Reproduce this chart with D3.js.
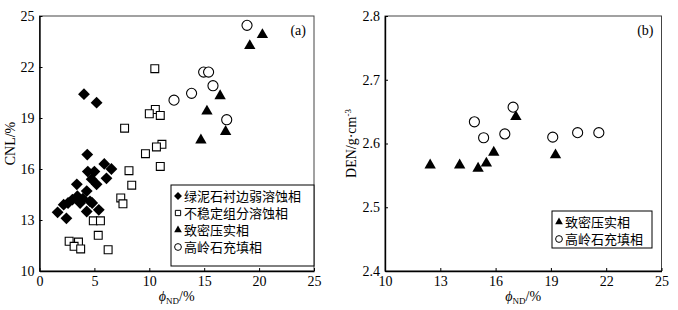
<!DOCTYPE html>
<html>
<head>
<meta charset="utf-8">
<script src="https://cdn.jsdelivr.net/npm/d3@7"></script>
<style>
  body { margin: 0; background: #fff; }
  svg { display: block; }
</style>
</head>
<body>
<div id="chart"></div>
<script>
// panel (a): CNL vs porosity, [phiND, CNL]
const chloriteA = [[4.05,20.4],[5.2,19.9],[4.35,16.85],[5.9,16.3],[6.55,16.0],[4.4,15.85],[5.0,15.85],
  [6.1,15.45],[4.75,15.4],[5.2,15.1],[3.4,15.1],[4.3,14.7],[3.45,14.4],[3.95,14.25],[3.0,14.2],
  [4.6,14.1],[4.8,14.0],[2.6,14.0],[2.2,13.9],[1.65,13.45],[4.3,13.5],[5.4,13.6],[2.45,13.1],[3.7,14.0]];
const unstableA = [[10.5,21.9],[10.55,19.5],[10.0,19.25],[11.0,19.15],[7.75,18.4],[11.15,17.45],
  [10.65,17.3],[9.65,16.9],[11.0,16.15],[8.15,15.9],[8.4,15.05],[7.4,14.3],[7.6,13.95],[4.9,12.95],
  [5.55,12.95],[5.35,12.1],[2.7,11.75],[3.55,11.7],[3.15,11.45],[3.75,11.3],[6.25,11.25]];
const compactA = [[20.3,23.9],[19.15,23.25],[16.45,20.3],[15.25,19.4],[16.95,18.2],[14.7,17.7]];
const kaoliniteA = [[18.9,24.45],[14.95,21.7],[15.4,21.7],[15.8,20.9],[13.85,20.45],[12.25,20.05],[17.05,18.9]];

// panel (b): DEN vs porosity, [phiND, DEN]
const compactB = [[17.1,2.642],[12.45,2.566],[14.05,2.566],[15.05,2.561],[15.5,2.569],[15.9,2.586],[19.25,2.582]];
const kaoliniteB = [[14.85,2.634],[15.35,2.609],[16.5,2.615],[16.95,2.657],[19.1,2.610],[20.45,2.617],[21.6,2.617]];

const xTicksA = [0, 5, 10, 15, 20, 25];
const yTicksA = [10, 13, 16, 19, 22, 25];
const xTicksB = [10, 13, 16, 19, 22, 25];
const yTicksB = [2.4, 2.5, 2.6, 2.7, 2.8];

const legendA = ['绿泥石衬边弱溶蚀相', '不稳定组分溶蚀相', '致密压实相', '高岭石充填相'];
const legendB = ['致密压实相', '高岭石充填相'];

const SERIF = '"Liberation Serif", "DejaVu Serif", serif';
const CJK = '"Noto Sans CJK SC", sans-serif';

const svg = d3.select('#chart').append('svg')
  .attr('width', 678).attr('height', 310);

// marker styles
const STYLES = {
  diamond: { type: d3.symbolSquare, size: 70, fill: '#000', stroke: 'none', rot: 45 },
  square: { type: d3.symbolSquare, size: 62, fill: '#fff', stroke: '#000', rot: 0 },
  triangle: { type: d3.symbolTriangle, size: 56, fill: '#000', stroke: 'none', rot: 0 },
  circle: { type: d3.symbolCircle, size: 80, fill: '#fff', stroke: '#000', rot: 0 }
};

function drawPanel(opt) {
  const g = svg.append('g');
  const x = d3.scaleLinear().domain(opt.xDomain).range([opt.left, opt.right]);
  const y = d3.scaleLinear().domain(opt.yDomain).range([opt.bottom, opt.top]);

  // frame
  g.append('rect')
    .attr('x', opt.left).attr('y', opt.top)
    .attr('width', opt.right - opt.left).attr('height', opt.bottom - opt.top)
    .attr('fill', 'none').attr('stroke', '#444').attr('stroke-width', 1);

  const xAxis = g.append('g')
    .attr('transform', `translate(0,${opt.bottom})`)
    .call(d3.axisBottom(x).tickValues(opt.xTicks).tickSizeInner(-3).tickSizeOuter(0).tickPadding(5)
      .tickFormat(d3.format('d')));
  const yAxis = g.append('g')
    .attr('transform', `translate(${opt.left},0)`)
    .call(d3.axisLeft(y).tickValues(opt.yTicks).tickSizeInner(-3).tickSizeOuter(0).tickPadding(5)
      .tickFormat(opt.yFormat));
  [xAxis, yAxis].forEach(a => {
    a.select('.domain').attr('stroke', '#000').attr('stroke-width', 1.4);
    a.selectAll('.tick line').attr('stroke', '#000');
    a.selectAll('.tick text').attr('font-family', SERIF).attr('font-size', 14).attr('fill', '#000');
  });

  // axis titles
  const xt = g.append('text')
    .attr('x', (opt.left + opt.right) / 2).attr('y', 301)
    .attr('text-anchor', 'middle').attr('font-family', SERIF).attr('font-size', 14);
  xt.append('tspan').attr('font-style', 'italic').text('ϕ');
  xt.append('tspan').attr('font-size', 9).attr('dy', 3).text('ND');
  xt.append('tspan').attr('dy', -3).text('/%');

  const yt = g.append('text')
    .attr('transform', `translate(${opt.yTitleX},${(opt.top + opt.bottom) / 2}) rotate(-90)`)
    .attr('text-anchor', 'middle').attr('font-family', SERIF).attr('font-size', 14);
  opt.yTitle(yt);

  g.append('text')
    .attr('x', opt.right - 8).attr('y', 35)
    .attr('text-anchor', 'end').attr('font-family', SERIF).attr('font-size', 14)
    .text(opt.tag);

  // points
  opt.series.forEach(s => {
    const st = STYLES[s.marker];
    g.append('g').selectAll('path')
      .data(s.data)
      .join('path')
      .attr('d', d3.symbol().type(st.type).size(st.size))
      .attr('transform', d => `translate(${x(d[0])},${y(d[1])}) rotate(${st.rot})`)
      .attr('fill', st.fill).attr('stroke', st.stroke).attr('stroke-width', 1.1);
  });

  // legend
  const lg = opt.legend;
  g.append('rect')
    .attr('x', lg.x).attr('y', lg.y).attr('width', lg.w).attr('height', lg.h)
    .attr('fill', '#fff').attr('stroke', '#000').attr('stroke-width', 1);
  lg.items.forEach((label, i) => {
    const st = STYLES[opt.series[i].marker];
    const cy = lg.y + 11 + i * 17;
    g.append('path')
      .attr('d', d3.symbol().type(st.type).size(st.size * 0.45))
      .attr('transform', `translate(${lg.x + 7},${cy}) rotate(${st.rot})`)
      .attr('fill', st.fill).attr('stroke', st.stroke).attr('stroke-width', 1);
    g.append('text')
      .attr('x', lg.x + 13).attr('y', cy + 4.5)
      .attr('font-family', CJK).attr('font-size', 13)
      .text(label);
  });
}

drawPanel({
  left: 39.5, right: 314, top: 16, bottom: 271,
  xDomain: [0, 25], yDomain: [10, 25],
  xTicks: xTicksA, yTicks: yTicksA, yFormat: d3.format('d'),
  yTitleX: 15, tag: '(a)',
  yTitle: t => t.text('CNL/%'),
  series: [
    { data: chloriteA, marker: 'diamond' },
    { data: unstableA, marker: 'square' },
    { data: compactA, marker: 'triangle' },
    { data: kaoliniteA, marker: 'circle' }
  ],
  legend: { x: 171, y: 185, w: 143, h: 81, items: legendA }
});

drawPanel({
  left: 385, right: 661.5, top: 16, bottom: 271,
  xDomain: [10, 25], yDomain: [2.4, 2.8],
  xTicks: xTicksB, yTicks: yTicksB, yFormat: d3.format('.1f'),
  yTitleX: 356, tag: '(b)',
  yTitle: t => {
    t.append('tspan').text('DEN/g·cm');
    t.append('tspan').attr('font-size', 9).attr('dy', -5).text('-3');
  },
  series: [
    { data: compactB, marker: 'triangle' },
    { data: kaoliniteB, marker: 'circle' }
  ],
  legend: { x: 552, y: 211, w: 100, h: 37, items: legendB }
});
</script>
</body>
</html>
